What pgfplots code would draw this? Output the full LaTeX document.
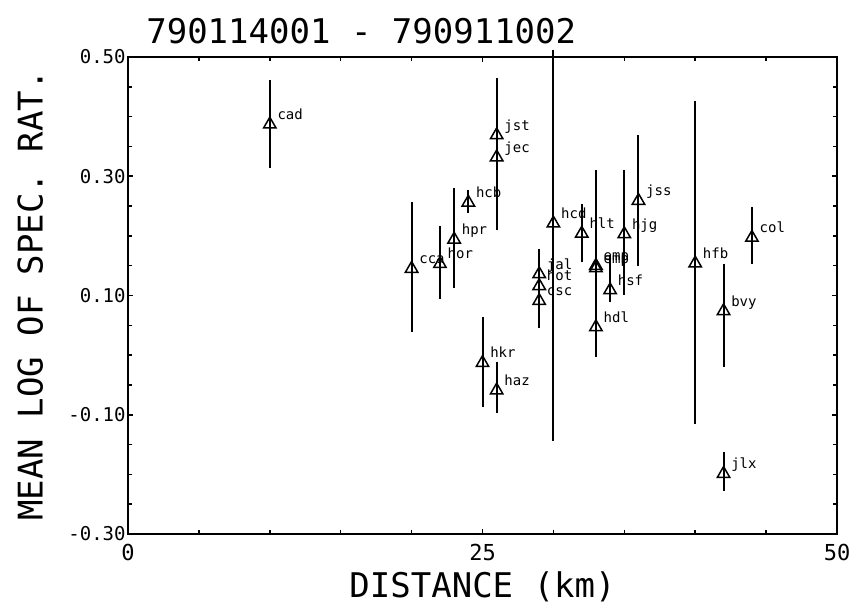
\documentclass[border=0pt]{standalone}
\usepackage{fontspec}
\setmainfont{DejaVu Sans Mono}
\usepackage{pgfplots}
\pgfplotsset{compat=1.18}
\usepackage{pgfplotstable}

% station distance, mean log spectral ratio, error up/down, station code
\pgfplotstableread{
x  y      ep     em     lab
10 0.387  0.074  0.074  cad
20 0.145  0.112  0.106  cca
22 0.153  0.063  0.059  hor
23 0.194  0.087  0.081  hpr
24 0.256  0.021  0.017  hcb
26 0.369  0.096  0.070  jst
26 0.332  0.050  0.122  jec
25 -0.013 0.077  0.074  hkr
26 -0.059 0.047  0.038  haz
29 0.136  0.042  0.030  jal
29 0.116  0.030  0.030  hot
29 0.091  0.030  0.045  csc
30 0.221  0.290  0.365  hcd
32 0.204  0.050  0.047  hlt
33 0.150  0.161  0.050  emp
33 0.146  0.050  0.050  emp
33 0.047  0.050  0.050  hdl
34 0.109  0.059  0.020  hsf
35 0.203  0.108  0.103  hjg
36 0.259  0.111  0.109  jss
40 0.154  0.273  0.269  hfb
44 0.197  0.051  0.045  col
42 0.074  0.079  0.094  bvy
42 -0.199 0.037  0.029  jlx
}\ratios

\begin{document}
\begin{tikzpicture}
\begin{axis}[
  scale only axis,
  width=354.5bp, height=238.5bp,
  xmin=0, xmax=50, ymin=-0.3, ymax=0.5,
  clip=false,
  axis line style={line width=1bp},
  xtick={0,25,50}, xticklabels={0,25,50},
  minor xtick={5,10,15,20,30,35,40,45},
  ytick={-0.3,-0.1,0.1,0.3,0.5},
  yticklabels={-0.30,-0.10,0.10,0.30,0.50},
  minor ytick={-0.25,-0.2,-0.15,-0.05,0,0.05,0.15,0.2,0.25,0.35,0.4,0.45},
  tick align=inside,
  major tick length=2.5bp, minor tick length=2bp,
  tick style={line width=0.8bp, black},
  x tick label style={font=\fontsize{11bp}{12bp}\selectfont, inner sep=1bp, yshift=-4bp},
  y tick label style={font=\fontsize{9.5bp}{10bp}\selectfont, inner sep=1bp},
  xlabel={DISTANCE (km)},
  ylabel={MEAN LOG OF SPEC. RAT.},
  label style={font=\fontsize{17bp}{18bp}\selectfont},
  xlabel style={at={(axis description cs:0.5,-0.111)}, anchor=center},
  ylabel style={at={(axis description cs:-0.138,0.5)}, anchor=center},
  title={790114001 - 790911002},
  title style={font=\fontsize{17bp}{18bp}\selectfont, at={(axis description cs:0.329,1.03)}, anchor=center},
]
\addplot[
  only marks, black,
  mark=triangle, mark size=3.6pt,
  mark options={line width=0.75bp},
  nodes near coords,
  point meta=explicit symbolic,
  every node near coord/.append style={anchor=base west, xshift=3.5bp, yshift=2.5bp,
    inner sep=0pt, font=\fontsize{7bp}{7bp}\selectfont},
  error bars/.cd, y dir=both, y explicit, error mark=none,
  error bar style={line width=1bp, black},
] table[x=x, y=y, y error plus=ep, y error minus=em, meta=lab] {\ratios};
\coordinate (bl) at (rel axis cs:0,0);
\coordinate (tr) at (rel axis cs:1,1);
\end{axis}
\pgfresetboundingbox
\path[use as bounding box] ([xshift=-64bp,yshift=-36.5bp]bl) rectangle ([xshift=11.5bp,yshift=28.5bp]tr);
\end{tikzpicture}
\end{document}
